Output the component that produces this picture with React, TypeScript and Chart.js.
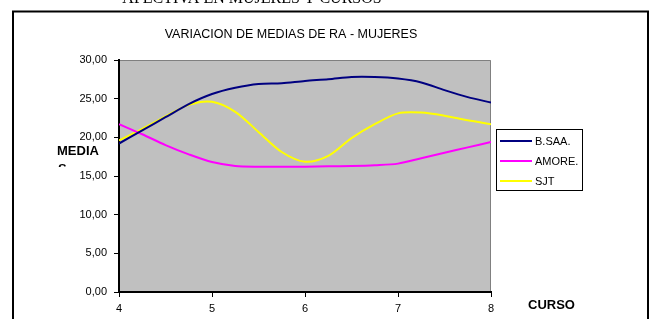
import React, { useEffect, useRef } from "react";
import { Chart, registerables } from "chart.js";

Chart.register(...registerables);

const cursos = [4, 4.25, 4.5, 4.75, 5, 5.25, 5.5, 5.75, 6, 6.25, 6.5, 6.75, 7, 7.25, 7.5, 7.75, 8];
const bSaa = [19.2, 20.9, 22.6, 24.3, 25.6, 26.4, 26.9, 27.0, 27.3, 27.5, 27.8, 27.8, 27.6, 27.1, 26.1, 25.2, 24.5];
const amore = [21.7, 20.4, 19.0, 17.8, 16.8, 16.3, 16.2, 16.2, 16.2, 16.25, 16.3, 16.4, 16.6, 17.3, 18.0, 18.7, 19.4];
const sjt = [19.6, 21.1, 22.7, 24.2, 24.6, 23.3, 20.7, 18.1, 16.85, 17.6, 19.9, 21.7, 23.1, 23.2, 22.8, 22.2, 21.7];

const seriesNames = ["B.SAA.", "AMORE.", "SJT"];
const seriesColors = ["#000080", "#FF00FF", "#FFFF00"];
const xTickLabels = ["4", "5", "6", "7", "8"];
const yTickLabels = ["0,00", "5,00", "10,00", "15,00", "20,00", "25,00", "30,00"];

const chartTitle = "VARIACION DE MEDIAS DE RA - MUJERES";
const pageText = "AFECTIVA EN MUJERES Y CURSOS";
const yTitle = ["MEDIA", "S"];
const xTitle = "CURSO";

const SANS = "'Liberation Sans', Arial, sans-serif";

const decor = {
  id: "decor",
  beforeDraw(chart: any) {
    const { ctx, chartArea: a } = chart;
    ctx.save();
    ctx.fillStyle = "#fff";
    ctx.fillRect(0, 0, chart.width, chart.height);
    ctx.fillStyle = "#C0C0C0";
    ctx.fillRect(a.left, a.top, a.right - a.left, a.bottom - a.top);
    ctx.strokeStyle = "#808080";
    ctx.lineWidth = 1;
    ctx.beginPath();
    ctx.moveTo(a.left, a.top + 0.5);
    ctx.lineTo(a.right - 0.5, a.top + 0.5);
    ctx.lineTo(a.right - 0.5, a.bottom);
    ctx.stroke();
    ctx.restore();
  },
  afterDraw(chart: any) {
    const { ctx } = chart;
    ctx.save();
    // page text (cut off at top)
    ctx.fillStyle = "#000";
    ctx.font = "16px 'Liberation Serif', 'Times New Roman', serif";
    ctx.textAlign = "center";
    ctx.textBaseline = "alphabetic";
    ctx.fillText(pageText, 252, 3);
    // outer frame
    ctx.strokeStyle = "#000";
    ctx.lineWidth = 2;
    ctx.strokeRect(13, 11.5, 635, 340);
    // title
    ctx.font = "12.5px " + SANS;
    ctx.textBaseline = "middle";
    ctx.fillText(chartTitle, 291, 35);
    // y title
    ctx.font = "bold 13px " + SANS;
    ctx.textAlign = "left";
    ctx.textBaseline = "alphabetic";
    ctx.fillText(yTitle[0], 57, 154.5);
    ctx.save();
    ctx.beginPath();
    ctx.rect(0, 0, 120, 167);
    ctx.clip();
    ctx.fillText(yTitle[1], 58, 172.5);
    ctx.restore();
    // x title
    ctx.fillText(xTitle, 528, 308.5);
    // legend
    ctx.fillStyle = "#fff";
    ctx.fillRect(496, 129, 87, 62);
    ctx.strokeStyle = "#000";
    ctx.lineWidth = 1;
    ctx.strokeRect(496.5, 129.5, 86, 61);
    ctx.font = "11px " + SANS;
    ctx.textBaseline = "middle";
    const rows = [141, 161, 181];
    seriesNames.forEach((n, i) => {
      ctx.strokeStyle = seriesColors[i];
      ctx.lineWidth = 2;
      ctx.beginPath();
      ctx.moveTo(500, rows[i]);
      ctx.lineTo(532, rows[i]);
      ctx.stroke();
      ctx.fillStyle = "#000";
      ctx.fillText(n, 535, rows[i] + 0.5);
    });
    ctx.restore();
  },
};

export default function App() {
  const ref = useRef<HTMLCanvasElement>(null);
  useEffect(() => {
    const series = [bSaa, amore, sjt];
    const chart = new Chart(ref.current!, {
      type: "line",
      data: {
        datasets: series.map((s, i) => ({
          label: seriesNames[i],
          data: s.map((v, j) => ({ x: cursos[j], y: v })),
          borderColor: seriesColors[i],
          backgroundColor: seriesColors[i],
          borderWidth: 2,
          pointRadius: 0,
          tension: 0.3,
          fill: false,
        })),
      },
      options: {
        responsive: false,
        animation: false,
        devicePixelRatio: 1,
        layout: { padding: { left: 0, top: 60, right: 160, bottom: 0 } },
        plugins: { legend: { display: false }, title: { display: false }, tooltip: { enabled: false } },
        scales: {
          x: {
            type: "linear",
            min: 4,
            max: 8,
            afterFit: (s: any) => { s.height = 27; },
            ticks: {
              stepSize: 1,
              padding: 5,
              color: "#000",
              font: { family: SANS, size: 11 },
              maxRotation: 0,
              callback: (v: any) => xTickLabels[Math.round(Number(v) - 4)] ?? "",
            },
            grid: { display: true, drawOnChartArea: false, drawTicks: true, tickLength: 5, color: "#000" },
            border: { display: true, color: "#000", width: 2 },
          },
          y: {
            min: 0,
            max: 30,
            afterFit: (s: any) => { s.width = 119; },
            ticks: {
              stepSize: 5,
              padding: 7,
              color: "#000",
              font: { family: SANS, size: 11 },
              callback: (v: any) => yTickLabels[Math.round(Number(v) / 5)] ?? "",
            },
            grid: { display: true, drawOnChartArea: false, drawTicks: true, tickLength: 5, color: "#000" },
            border: { display: true, color: "#000", width: 2 },
          },
        },
      },
      plugins: [decor],
    });
    return () => chart.destroy();
  }, []);
  return (
    <div style={{ position: "absolute", left: 0, top: 0, width: 651, height: 319, background: "#fff" }}>
      <canvas ref={ref} width={651} height={319} style={{ display: "block" }} />
    </div>
  );
}
